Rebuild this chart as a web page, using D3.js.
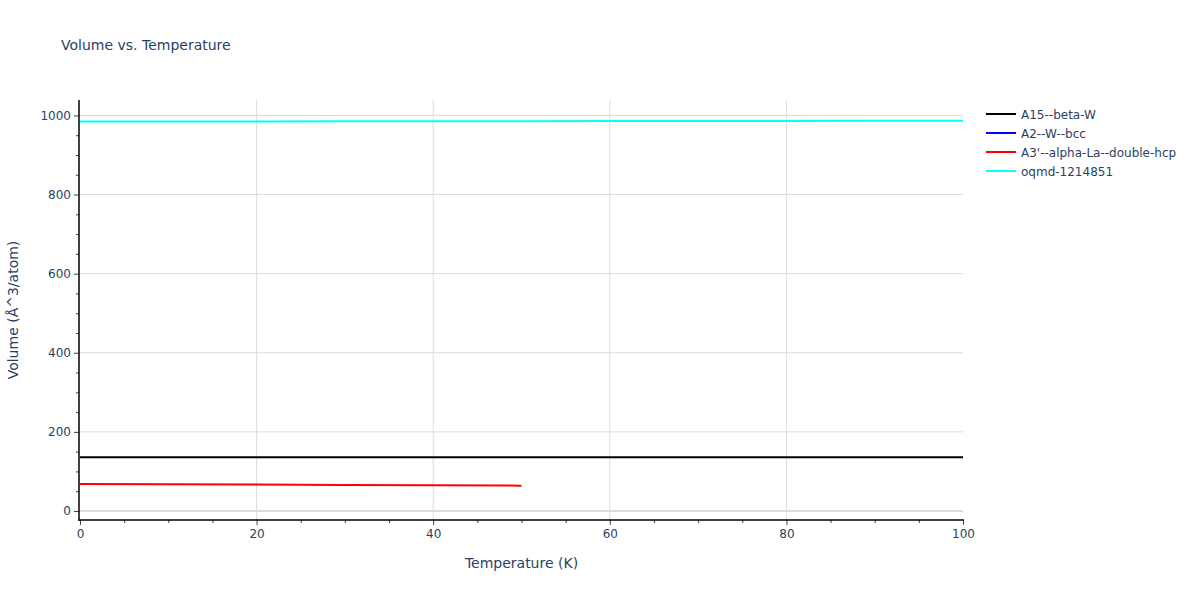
<!DOCTYPE html>
<html><head><meta charset="utf-8">
<script src="https://cdn.jsdelivr.net/npm/d3@7"></script>
<style>body{margin:0;background:#fff}svg{font-family:"DejaVu Sans",verdana,arial,sans-serif}</style>
</head><body><svg id="c" width="1200" height="600"></svg>
<script>
const seriesNames = ["A15--beta-W","A2--W--bcc","A3'--alpha-La--double-hcp","oqmd-1214851"];
const seriesColors = ["#000000","#0000ff","#ff0000","#00ffff"];
const tA15 = [0,10,20,30,40,50,60,70,80,90,100];
const vA15 = [136,136,136,136,136,136,136,136,136,136,136];
const tA2 = [];
const vA2 = [];
const tA3 = [0,10,20,30,40,50];
const vA3 = [68.3,67.5,66.7,65.8,64.9,64.0];
const tOq = [0,10,20,30,40,50,60,70,80,90,100];
const vOq = [984.5,984.7,984.9,985.1,985.3,985.5,985.7,985.9,986.1,986.3,986.5];
const xTicks = [0,20,40,60,80,100];
const yTicks = [0,200,400,600,800,1000];

const series = [
  {t:tA15,v:vA15},{t:tA2,v:vA2},{t:tA3,v:vA3},{t:tOq,v:vOq}
].map((s,i)=>({name:seriesNames[i],color:seriesColors[i],pts:s.t.map((t,j)=>[t,s.v[j]])}));

const FONT='"DejaVu Sans",verdana,arial,sans-serif';
const svg = d3.select("#c");
const L=80,R=963,T=100,B=520;
const x = d3.scaleLinear().domain([0,100]).range([L,R]);
const y = d3.scaleLinear().domain([-22.8,1039]).range([B,T]);
const txt="#2a3f5f";

// grid
svg.append("g").selectAll("line").data(xTicks.filter(d=>d>0&&d<100)).join("line")
  .attr("x1",d=>x(d)).attr("x2",d=>x(d)).attr("y1",T).attr("y2",B)
  .attr("stroke","#dcdcdc").attr("stroke-width",1);
svg.append("g").selectAll("line").data(yTicks.filter(d=>d>0)).join("line")
  .attr("x1",L).attr("x2",R).attr("y1",d=>y(d)).attr("y2",d=>y(d))
  .attr("stroke","#dcdcdc").attr("stroke-width",1);
svg.append("line").attr("x1",L).attr("x2",R).attr("y1",y(0)).attr("y2",y(0))
  .attr("stroke","#dcdcdc").attr("stroke-width",2);

// lines
const line = d3.line().x(d=>x(d[0])).y(d=>y(d[1]));
svg.append("clipPath").attr("id","cp").append("rect").attr("x",L).attr("y",T).attr("width",R-L).attr("height",B-T);
svg.append("g").attr("clip-path","url(#cp)").selectAll("path").data(series.filter(s=>s.pts.length)).join("path")
  .attr("d",s=>line(s.pts)).attr("fill","none").attr("stroke",s=>s.color).attr("stroke-width",2);

// axes
const xa = svg.append("g").attr("transform",`translate(0,${B})`)
  .call(d3.axisBottom(x).tickValues(xTicks).tickSize(5).tickPadding(4).tickFormat(d3.format("d")));
const xminor = svg.append("g").attr("transform",`translate(0,${B})`)
  .call(d3.axisBottom(x).tickValues(d3.range(5,100,5).filter(d=>d%20)).tickSize(3).tickFormat(""));
const ya = svg.append("g").attr("transform",`translate(${L-1},0)`)
  .call(d3.axisLeft(y).tickValues(yTicks).tickSize(5).tickPadding(3).tickFormat(d3.format("d")));
const yminor = svg.append("g").attr("transform",`translate(${L-1},0)`)
  .call(d3.axisLeft(y).tickValues(d3.range(50,1000,50).filter(d=>d%200)).tickSize(3).tickFormat(""));
[xa,xminor,ya,yminor].forEach(g=>{
  g.select(".domain").remove();
  g.selectAll(".tick line").attr("stroke","#444");
  g.selectAll("text").attr("fill",txt).attr("font-size",12).attr("font-family",FONT);
});
svg.append("line").attr("x1",L-1).attr("x2",L-1).attr("y1",T).attr("y2",B+1).attr("stroke","#000").attr("stroke-width",1.5);
svg.append("line").attr("x1",L-1).attr("x2",R+1).attr("y1",B).attr("y2",B).attr("stroke","#000").attr("stroke-width",1.5);

// title and labels
svg.append("text").attr("x",61).attr("y",50).attr("fill",txt).attr("font-size",14).text("Volume vs. Temperature");
svg.append("text").attr("x",(L+R)/2).attr("y",568).attr("text-anchor","middle").attr("fill",txt).attr("font-size",14).text("Temperature (K)");
svg.append("text").attr("transform",`translate(18,${(T+B)/2}) rotate(-90)`).attr("text-anchor","middle").attr("fill",txt).attr("font-size",14).text("Volume (Å^3/atom)");

// legend
const lg = svg.append("g").selectAll("g").data(series).join("g")
  .attr("transform",(d,i)=>`translate(986,${114+i*19})`);
lg.append("line").attr("x1",0).attr("x2",30).attr("stroke",d=>d.color).attr("stroke-width",2);
lg.append("text").attr("x",35).attr("y",4.5).attr("fill",txt).attr("font-size",12).text(d=>d.name);
</script></body></html>
